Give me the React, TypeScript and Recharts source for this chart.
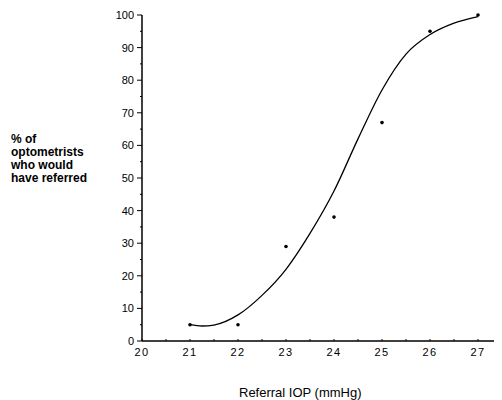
import { ComposedChart, Line, Scatter, XAxis, YAxis } from 'recharts';

// observed points
const iop = [21, 22, 23, 24, 25, 26, 27];
const pctReferred = [5, 5, 29, 38, 67, 95, 100];

// fitted curve
const curveIop = [21, 21.25, 21.5, 22, 22.5, 23, 23.5, 24, 24.5, 25, 25.5, 26, 26.5, 27];
const curvePct = [5, 4.6, 4.9, 8, 14, 22, 33, 46, 62, 77, 88, 94, 97.5, 99.5];

const xTicks = [20, 20.5, 21, 21.5, 22, 22.5, 23, 23.5, 24, 24.5, 25, 25.5, 26, 26.5, 27, 27.5];
const yTicks = [0, 5, 10, 15, 20, 25, 30, 35, 40, 45, 50, 55, 60, 65, 70, 75, 80, 85, 90, 95, 100];
const yTitle = ['% of', 'optometrists', 'who would', 'have referred'];

const points = iop.map((x, i) => ({ x, y: pctReferred[i] }));
const curve = curveIop.map((x, i) => ({ x, y: curvePct[i] }));

const font = 'Arial, "Liberation Sans", Helvetica, sans-serif';

const YTick = (props: any) => {
  const { x, y, payload } = props;
  const major = payload.value % 10 === 0;
  return (
    <g>
      <line x1={x - (major ? 5 : 2)} y1={y} x2={x} y2={y} stroke="#000" strokeWidth={1} />
      {major && (
        <text x={x - 8} y={y} dy={4} textAnchor="end" fontSize={11} fontFamily={font} fill="#000">
          {payload.value}
        </text>
      )}
    </g>
  );
};

const XTick = (props: any) => {
  const { x, y, payload } = props;
  const major = Number.isInteger(payload.value);
  return (
    <g>
      <line x1={x} y1={y} x2={x} y2={y - 2} stroke="#000" strokeWidth={1} />
      {major && (
        <text x={x} y={y + 15} textAnchor="middle" fontSize={11} fontFamily={font} letterSpacing={1.5} fill="#000">
          {payload.value}
        </text>
      )}
    </g>
  );
};

export default function App() {
  return (
    <div style={{ position: 'relative', width: 494, height: 392 }}>
      <ComposedChart
        width={494}
        height={392}
        margin={{ top: 7, right: 0, left: 0, bottom: 0 }}
        style={{ background: '#fff' }}
      >
        <XAxis
          type="number"
          dataKey="x"
          domain={[20, 27.5]}
          ticks={xTicks}
          allowDataOverflow
          tickLine={false}
          tickSize={0}
          tickMargin={0}
          tick={<XTick />}
          stroke="#000"
          strokeWidth={1.5}
          interval={0}
          height={59}
        />
        <YAxis
          type="number"
          dataKey="y"
          domain={[0, 100]}
          ticks={yTicks}
          tickLine={false}
          tickSize={0}
          tickMargin={0}
          tick={<YTick />}
          stroke="#000"
          strokeWidth={1.5}
          interval={0}
          width={134}
        />
        <Line
          data={curve}
          dataKey="y"
          type="monotone"
          stroke="#000"
          strokeWidth={1.3}
          dot={false}
          activeDot={false}
          isAnimationActive={false}
        />
        <Scatter data={points} dataKey="y" fill="#000" shape={(p: any) => <circle cx={p.cx} cy={p.cy} r={1.8} fill="#000" />} isAnimationActive={false} />
      </ComposedChart>
      <div
        style={{
          position: 'absolute',
          left: 3,
          top: 125,
          fontFamily: font,
          fontSize: 12,
          fontWeight: 'bold',
          lineHeight: '13px',
          color: '#000',
        }}
      >
        {yTitle.map((t) => (
          <div key={t}>{t}</div>
        ))}
      </div>
      <div
        style={{
          position: 'absolute',
          left: 231,
          top: 377,
          whiteSpace: 'nowrap',
          fontFamily: font,
          fontSize: 13,
          color: '#000',
        }}
      >
        Referral IOP (mmHg)
      </div>
    </div>
  );
}
